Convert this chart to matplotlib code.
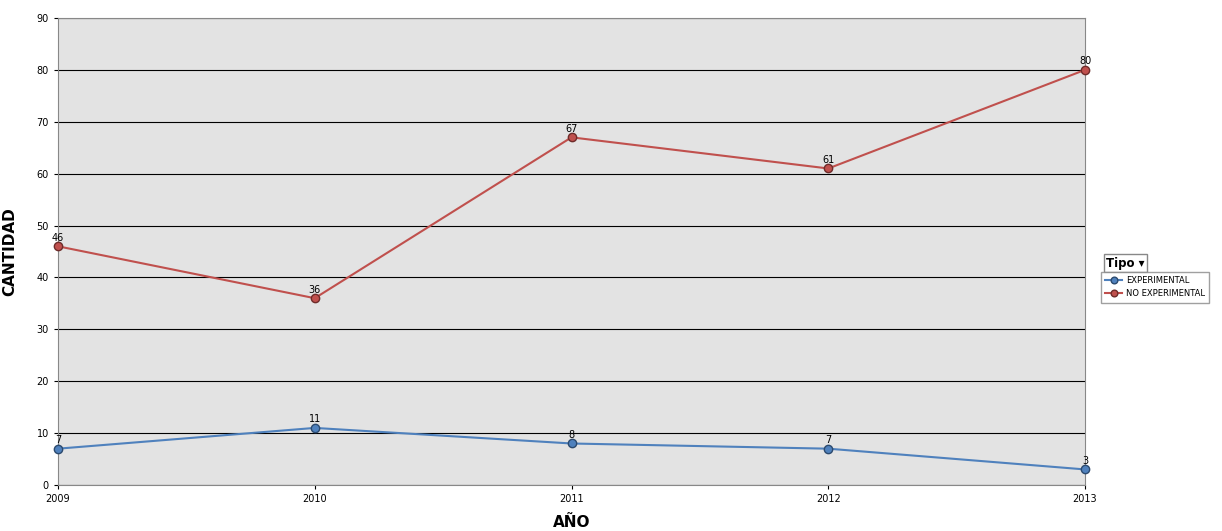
import matplotlib
matplotlib.use("Agg")
import matplotlib.pyplot as plt

years = [2009, 2010, 2011, 2012, 2013]
experimental = [7, 11, 8, 7, 3]
no_experimental = [46, 36, 67, 61, 80]

fig = plt.figure(figsize=(12.22, 5.31), dpi=100)
ax = fig.add_axes([58/1222, 1-485/531, (1085-58)/1222, (485-18)/531])
ax.set_facecolor('#e3e3e3')
ax.set_xlim(2009, 2013)
ax.set_ylim(0, 90)
ax.set_yticks(range(0, 91, 10))
ax.set_xticks(years)
ax.grid(axis='y', color='black', linewidth=0.8)
ax.set_axisbelow(True)
ax.tick_params(labelsize=7, length=3)
for s in ax.spines.values():
    s.set_color('#888888')

l1, = ax.plot(years, experimental, color='#4f81bd', lw=1.5, marker='o', ms=6,
              mfc='#4f81bd', mec='#2c4a6e', clip_on=False, zorder=3)
l2, = ax.plot(years, no_experimental, color='#c0504d', lw=1.5, marker='o', ms=6,
              mfc='#c0504d', mec='#6e2c2a', clip_on=False, zorder=3)
for x, y in zip(years, experimental):
    ax.annotate(str(y), (x, y), xytext=(0, 4), textcoords='offset points', ha='center', fontsize=7)
for x, y in zip(years, no_experimental):
    ax.annotate(str(y), (x, y), xytext=(0, 4), textcoords='offset points', ha='center', fontsize=7)

ax.set_xlabel('AÑO', fontsize=11, fontweight='bold', labelpad=8)
ax.set_ylabel('CANTIDAD', fontsize=11, fontweight='bold', labelpad=14)

leg = fig.legend([l1, l2], ['EXPERIMENTAL', 'NO EXPERIMENTAL'], loc='upper left',
                 bbox_to_anchor=(1101/1222, 1-272/531), fontsize=6, frameon=True,
                 fancybox=False, edgecolor='#888888', borderpad=0.5, handlelength=2.0,
                 handletextpad=0.5, borderaxespad=0, markerscale=0.8)
fig.text(1106/1222, 1-263/531, 'Tipo \u25be', fontsize=8.5, fontweight='bold', va='center',
         bbox=dict(boxstyle='square,pad=0.2', fc='white', ec='#888888'))
fig.savefig('out.png', dpi=100)
